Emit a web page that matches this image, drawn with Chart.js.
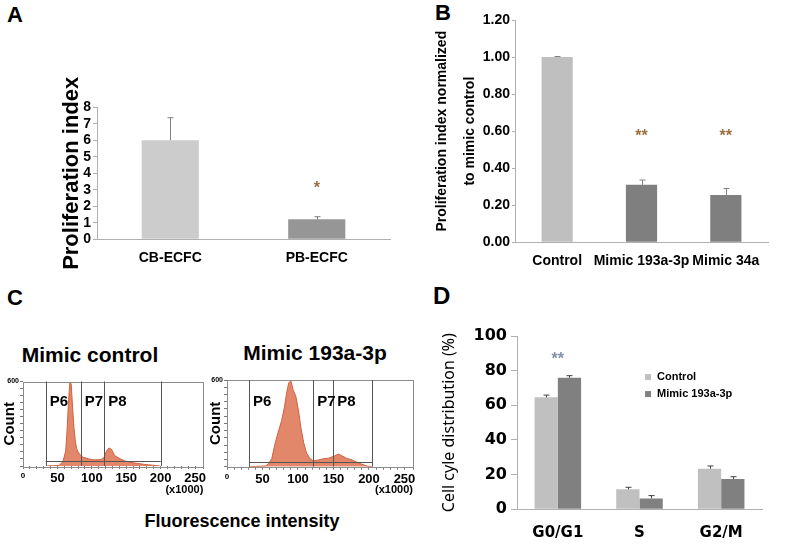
<!DOCTYPE html>
<html>
<head>
<meta charset="utf-8">
<script src="https://cdn.jsdelivr.net/npm/chart.js@4.4.0/dist/chart.umd.min.js"></script>
<style>
  body { margin: 0; background: #fff; }
  #fig { position: relative; width: 787px; height: 546px; overflow: hidden; font-family: "Liberation Sans", Arial, sans-serif; }
  #fig canvas { position: absolute; }
  .lbl { position: absolute; font-weight: bold; color: #000; white-space: nowrap; }
</style>
</head>
<body>
<div id="fig">
  <div class="lbl" style="left:7px;top:4px;font-size:22px;line-height:22px">A</div>
  <div class="lbl" style="left:435px;top:2px;font-size:22px;line-height:22px">B</div>
  <div class="lbl" style="left:7px;top:287px;font-size:22px;line-height:22px">C</div>
  <div class="lbl" style="left:433px;top:284px;font-size:24px;line-height:24px">D</div>
  <div class="lbl" style="left:0;width:180px;text-align:center;top:344px;font-size:21px;line-height:21px">Mimic control</div>
  <div class="lbl" style="left:215px;width:200px;text-align:center;top:342px;font-size:21px;line-height:21px">Mimic 193a-3p</div>
  <div class="lbl" style="left:92px;width:300px;text-align:center;top:512px;font-size:18px;line-height:18px">Fluorescence intensity</div>

  <canvas id="chartA" width="345" height="210" style="left:55px;top:60px"></canvas>
  <canvas id="chartB" width="363" height="272" style="left:424px;top:8px"></canvas>
  <canvas id="chartC1" width="212" height="130" style="left:0px;top:370px"></canvas>
  <canvas id="chartC2" width="217" height="130" style="left:205px;top:370px"></canvas>
  <canvas id="chartD" width="349" height="236" style="left:438px;top:310px"></canvas>
</div>
<script>
// ---- panel A
const catsA = ['CB-ECFC', 'PB-ECFC'];
const prolifA = [6.0, 1.21];
const sdA = [1.37, 0.16];
const sigA = ['', '*'];
const sigLevelA = 3.3;

// ---- panel B
const catsB = ['Control', 'Mimic 193a-3p', 'Mimic 34a'];
const prolifB = [1.0, 0.31, 0.255];
const sdB = [0.003, 0.026, 0.035];
const sigB = ['', '**', '**'];
const sigLevelB = 0.59;

// ---- panel C (counts per fluorescence bin, x1000)
const binsCtrl = [35, 51, 53, 58, 62, 64, 66, 68, 70, 72, 74, 76, 78, 80, 83, 87, 95, 102, 109, 114,
                  118, 121, 125, 129, 133, 141, 148, 155, 165, 175, 189, 199];
const countsCtrl = [0, 3, 7, 31, 104, 249, 443, 590, 585, 419, 274, 177, 123, 99, 80, 63, 51, 44, 44, 48,
                    61, 104, 128, 116, 75, 51, 36, 27, 19, 12, 5, 0];
const binsMimic = [31, 54, 58, 63, 68, 72, 77, 81, 84, 87, 90, 93, 97, 101, 104, 108, 112, 117, 122, 129,
                   136, 143, 150, 157, 161, 168, 176, 183, 190, 197, 204];
const countsMimic = [0, 5, 17, 55, 166, 237, 320, 415, 510, 581, 593, 533, 486, 379, 273, 166, 95, 55, 40, 47,
                     55, 59, 71, 88, 78, 59, 47, 31, 17, 5, 0];
const gatesCtrl = [33, 84, 118, 200];
const gatesMimic = [31, 121.6, 149.7, 204.5];
const gateNames = ['P6', 'P7', 'P8'];
const gateLevel = 35;
const gateLabelLevel = 452;

// ---- panel D
const phases = ['G0/G1', 'S', 'G2/M'];
const ctrlD = [64.6, 11.5, 23.4];
const mimicD = [75.9, 6.3, 17.5];
const sdCtrlD = [1.3, 1.2, 1.6];
const sdMimicD = [1.2, 1.6, 1.3];
const sigD = ['**', '', ''];
const sigLevelD = 88.5;

Chart.defaults.animation = false;
Chart.defaults.color = '#000';
Chart.defaults.font.family = '"Liberation Sans", Arial, sans-serif';

const axisGrey = '#b0b0b0';

// error bars (upward only) drawn from the bar tops
function errorBars(sds, color) {
    return {
        id: 'errorBars',
        afterDatasetsDraw(chart) {
            const ctx = chart.ctx;
            const y = chart.scales.y;
            ctx.save();
            ctx.strokeStyle = color;
            ctx.lineWidth = 1;
            chart.data.datasets.forEach((ds, di) => {
                chart.getDatasetMeta(di).data.forEach((bar, i) => {
                    const top = y.getPixelForValue(ds.data[i] + sds[di][i]);
                    const x = Math.round(bar.x) + 0.5;
                    ctx.beginPath();
                    ctx.moveTo(x, bar.y);
                    ctx.lineTo(x, top);
                    ctx.moveTo(x - 3, top);
                    ctx.lineTo(x + 3, top);
                    ctx.stroke();
                });
            });
            ctx.restore();
        }
    };
}

// significance asterisks
function sigMarks(marks, level, color) {
    return {
        id: 'sigMarks',
        afterDatasetsDraw(chart) {
            const ctx = chart.ctx;
            ctx.save();
            ctx.fillStyle = color;
            ctx.font = 'bold 16px "Liberation Sans", Arial';
            ctx.textAlign = 'center';
            ctx.textBaseline = 'middle';
            marks.forEach((m, i) => {
                if (!m) return;
                const x = chart.scales.x.getPixelForValue(i);
                ctx.fillText(m, x, chart.scales.y.getPixelForValue(level) + 4);
            });
            ctx.restore();
        }
    };
}

// flow cytometry gates P6-P8 and the plot frame
function gates(g) {
    return {
        id: 'gates',
        afterDatasetsDraw(chart) {
            const {ctx, chartArea: a, scales: {x, y}} = chart;
            ctx.save();
            ctx.lineWidth = 1;
            ctx.strokeStyle = '#8c8c8c';
            ctx.strokeRect(Math.round(a.left) + 0.5, Math.round(a.top) + 0.5,
                           Math.round(a.width), Math.round(a.height));
            ctx.strokeStyle = '#555';
            g.forEach(v => {
                const px = Math.round(x.getPixelForValue(v)) + 0.5;
                ctx.beginPath();
                ctx.moveTo(px, a.top);
                ctx.lineTo(px, a.bottom);
                ctx.stroke();
            });
            const gy = Math.round(y.getPixelForValue(gateLevel)) + 0.5;
            ctx.beginPath();
            ctx.moveTo(x.getPixelForValue(g[0]), gy);
            ctx.lineTo(x.getPixelForValue(g[g.length - 1]), gy);
            ctx.stroke();
            ctx.fillStyle = '#000';
            ctx.font = 'bold 15px "Liberation Sans", Arial';
            ctx.textBaseline = 'middle';
            gateNames.forEach((n, i) => {
                ctx.fillText(n, x.getPixelForValue(g[i]) + 4, y.getPixelForValue(gateLabelLevel));
            });
            ctx.restore();
        }
    };
}

const legendD = {
    id: 'legendD',
    afterDraw(chart) {
        const {ctx, chartArea: a} = chart;
        const x = a.left + a.width * 0.535;
        let y = a.top + a.height * 0.237;
        ctx.save();
        ctx.font = 'bold 11px "Liberation Sans", Arial';
        ctx.textBaseline = 'middle';
        chart.data.datasets.forEach(ds => {
            ctx.fillStyle = ds.backgroundColor;
            ctx.fillRect(x - 3, y - 3, 6, 6);
            ctx.fillStyle = '#000';
            ctx.fillText(ds.label, x + 9, y);
            y += 17;
        });
        ctx.restore();
    }
};

// Panel A
new Chart(document.getElementById('chartA'), {
    type: 'bar',
    data: {
        labels: catsA,
        datasets: [{
            data: prolifA,
            backgroundColor: ['#cccccc', '#969696'],
            barPercentage: 0.39,
            categoryPercentage: 1
        }]
    },
    options: {
        responsive: false,
        layout: {padding: {top: 47.3, right: 10, bottom: 0, left: 0}},
        plugins: {legend: {display: false}, tooltip: {enabled: false}},
        scales: {
            x: {
                grid: {display: false, drawTicks: false},
                border: {color: axisGrey},
                ticks: {font: {size: 14, weight: 'bold'}, padding: 10, autoSkip: false, maxRotation: 0},
                afterFit: s => { s.height = 30.7; }
            },
            y: {
                min: 0, max: 8,
                ticks: {stepSize: 1, autoSkip: false, font: {size: 14, weight: 'bold'}, padding: 2},
                grid: {drawOnChartArea: false, tickLength: 4, color: axisGrey},
                border: {color: axisGrey},
                title: {display: true, text: 'Proliferation index', font: {size: 22, weight: 'bold'}, padding: {top: 4, bottom: 0}},
                afterFit: s => { s.width = 42; }
            }
        }
    },
    plugins: [errorBars([sdA], '#808080'), sigMarks(sigA, sigLevelA, '#9a7040')]
});

// Panel B
new Chart(document.getElementById('chartB'), {
    type: 'bar',
    data: {
        labels: catsB,
        datasets: [{
            data: prolifB,
            backgroundColor: ['#bfbfbf', '#7f7f7f', '#7f7f7f'],
            barPercentage: 0.37,
            categoryPercentage: 1
        }]
    },
    options: {
        responsive: false,
        layout: {padding: {top: 12, right: 19, bottom: 0, left: 0}},
        plugins: {legend: {display: false}, tooltip: {enabled: false}},
        scales: {
            x: {
                grid: {display: false, drawTicks: false},
                border: {color: axisGrey},
                ticks: {font: {size: 14, weight: 'bold'}, padding: 10, autoSkip: false, maxRotation: 0},
                afterFit: s => { s.height = 37.7; }
            },
            y: {
                min: 0, max: 1.2,
                ticks: {stepSize: 0.2, autoSkip: false, font: {size: 14, weight: 'bold'}, padding: 2,
                        callback: v => v.toFixed(2)},
                grid: {drawOnChartArea: false, tickLength: 3, color: axisGrey},
                border: {color: axisGrey},
                title: {display: true, text: ['Proliferation index normalized', 'to mimic control'],
                        font: {size: 14, weight: 'bold', lineHeight: 2}, padding: {top: 4, bottom: 0}},
                afterFit: s => { s.width = 91; }
            }
        }
    },
    plugins: [errorBars([sdB], '#808080'), sigMarks(sigB, sigLevelB, '#9a7040')]
});

// Panel C histograms
function histogram(id, bins, counts, g, yAxisWidth, titlePad, xHeight, padTop, padRight) {
    new Chart(document.getElementById(id), {
        type: 'line',
        data: {
            datasets: [{
                data: bins.map((b, i) => ({x: b, y: counts[i]})),
                fill: 'origin',
                backgroundColor: 'rgba(224, 122, 90, 0.9)',
                borderColor: '#d2603e',
                borderWidth: 1,
                pointRadius: 0,
                tension: 0
            }]
        },
        options: {
            responsive: false,
            layout: {padding: {top: padTop, right: padRight, bottom: 0, left: 0}},
            plugins: {legend: {display: false}, tooltip: {enabled: false}},
            scales: {
                x: {
                    type: 'linear', min: 0, max: 262,
                    border: {display: false},
                    grid: {drawOnChartArea: false, tickLength: 3, color: '#777'},
                    ticks: {
                        stepSize: 10, autoSkip: false, maxRotation: 0, padding: 2,
                        callback: v => (v % 50 === 0 ? v : ''),
                        font: c => (c.tick && c.tick.value === 0 ? {size: 8, weight: 'bold'} : {size: 13, weight: 'bold'})
                    },
                    title: {display: true, text: '(x1000)', align: 'end', font: {size: 11, weight: 'bold'}, padding: {top: 0, bottom: 3}},
                    afterFit: s => { s.height = xHeight; }
                },
                y: {
                    min: 0, max: 600,
                    border: {display: false},
                    grid: {drawOnChartArea: false, tickLength: 3, color: '#777'},
                    ticks: {stepSize: 50, autoSkip: false, padding: 1,
                            callback: v => (v === 600 ? '600' : ''),
                            font: {size: 7, weight: 'bold'}},
                    title: {display: true, text: 'Count', font: {size: 15, weight: 'bold'}, padding: {top: titlePad, bottom: 0}},
                    afterFit: s => { s.width = yAxisWidth; }
                }
            }
        },
        plugins: [gates(g)]
    });
}
histogram('chartC1', binsCtrl, countsCtrl, gatesCtrl, 23, 1, 34, 11.5, 8.7);
histogram('chartC2', binsMimic, countsMimic, gatesMimic, 22, 2, 33.3, 10, 9);

// Panel D
new Chart(document.getElementById('chartD'), {
    type: 'bar',
    data: {
        labels: phases,
        datasets: [
            {label: 'Control', data: ctrlD, backgroundColor: '#c0c0c0', barPercentage: 1, categoryPercentage: 0.57},
            {label: 'Mimic 193a-3p', data: mimicD, backgroundColor: '#808080', barPercentage: 1, categoryPercentage: 0.57}
        ]
    },
    options: {
        responsive: false,
        layout: {padding: {top: 26, right: 25, bottom: 0, left: 0}},
        plugins: {legend: {display: false}, tooltip: {enabled: false}},
        scales: {
            x: {
                grid: {display: false, drawTicks: false},
                border: {color: axisGrey},
                ticks: {font: {family: '"DejaVu Sans"', size: 15, weight: 'bold'}, padding: 15, autoSkip: false, maxRotation: 0},
                afterFit: s => { s.height = 36.7; }
            },
            y: {
                min: 0, max: 100,
                ticks: {stepSize: 20, autoSkip: false, font: {family: '"DejaVu Sans"', size: 16, weight: 'bold'}, padding: 4},
                grid: {drawOnChartArea: false, tickLength: 6, color: axisGrey},
                border: {color: axisGrey},
                title: {display: true, text: 'Cell cyle distribution (%)', font: {family: '"Noto Sans"', size: 16}, padding: {top: 2, bottom: 0}},
                afterFit: s => { s.width = 79; }
            }
        }
    },
    plugins: [errorBars([sdCtrlD, sdMimicD], '#404040'), sigMarks(sigD, sigLevelD, '#8090a8'), legendD]
});
</script>
</body>
</html>
